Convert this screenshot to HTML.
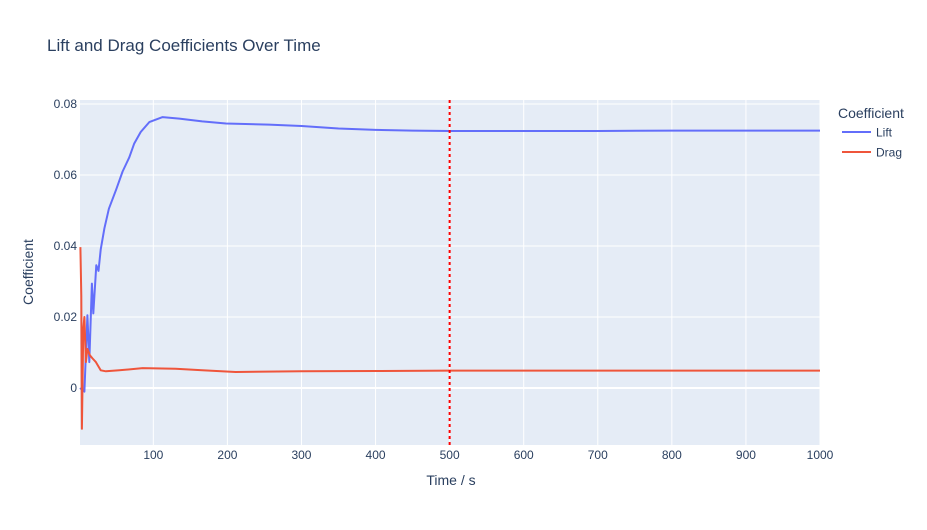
<!DOCTYPE html>
<html><head><meta charset="utf-8"><style>
body{margin:0;background:#fff;font-family:"Liberation Sans",Arial,sans-serif;}
svg text{font-family:"Liberation Sans",Arial,sans-serif;}
</style></head><body>
<svg id="chart" width="927" height="525" xmlns="http://www.w3.org/2000/svg">
<rect width="927" height="525" fill="#fff"/>
<text x="47" y="51" font-size="17" fill="#2a3f5f">Lift and Drag Coefficients Over Time</text>
<rect x="80" y="100" width="740" height="345" fill="#e5ecf6"/>
<g id="grid"></g>
<g id="series"></g>
<g id="ticks"></g>
<text x="451" y="485" font-size="14" fill="#2a3f5f" text-anchor="middle">Time / s</text>
<text x="33" y="272" font-size="14" fill="#2a3f5f" text-anchor="middle" transform="rotate(-90 33 272)">Coefficient</text>
<g>
<text x="838" y="118" font-size="14" fill="#2a3f5f">Coefficient</text>
<g><line x1="842" y1="132" x2="871" y2="132" stroke="#636efa" stroke-width="2"/><text x="876" y="136.5" font-size="12" fill="#2a3f5f">Lift</text></g>
<g><line x1="842" y1="152" x2="871" y2="152" stroke="#ef553b" stroke-width="2"/><text x="876" y="156.5" font-size="12" fill="#2a3f5f">Drag</text></g>
</g>
</svg>
<script>
const liftT=[1,7,11,13.5,17,19,23,26,29,34,40,50,58.5,67.5,74,83,94.5,112.5,135,166,198,256,300,350,400,450,500,600,700,800,900,1000];
const liftV=[0,-0.001,0.0205,0.0073,0.0294,0.021,0.0346,0.033,0.039,0.045,0.0505,0.056,0.061,0.065,0.0688,0.0721,0.0749,0.0763,0.0759,0.0751,0.0745,0.0742,0.0738,0.0731,0.0727,0.0725,0.0724,0.0724,0.0724,0.0725,0.0725,0.0725];
const dragT=[1.5,2.7,3.6,5.4,7,9,11,14.4,18,22.5,29,36,54,85.5,130,166,211,300,400,500,600,700,800,900,1000];
const dragV=[0.0397,0.026,-0.0115,0.0167,0.02,0.0073,0.011,0.0092,0.0083,0.0073,0.005,0.0047,0.005,0.0056,0.0054,0.005,0.0045,0.0047,0.0048,0.0049,0.0049,0.0049,0.0049,0.0049,0.0049];
const xTicks=[100,200,300,400,500,600,700,800,900,1000];
const yTicks=[0,0.02,0.04,0.06,0.08];
const yTickLabels=["0","0.02","0.04","0.06","0.08"];
const markerT=500;
const NS="http://www.w3.org/2000/svg";
const xs=t=>80+(t-1)/(999)*740;
const ys=v=>388-v/0.02*71;
function mk(tag,attrs,parent){const e=document.createElementNS(NS,tag);for(const k in attrs)e.setAttribute(k,attrs[k]);parent.appendChild(e);return e;}
const grid=document.getElementById('grid'),ticks=document.getElementById('ticks'),series=document.getElementById('series');
xTicks.forEach(t=>{
  const l=mk('line',{x1:xs(t),x2:xs(t),y1:100,y2:445,stroke:'#fff','stroke-width':1},grid);
  
  
  const tx=mk('text',{x:xs(t),y:459,'font-size':12,fill:'#2a3f5f','text-anchor':'middle'},ticks);
  tx.textContent=t;
  
  
});
yTicks.forEach((v,i)=>{
  const l=mk('line',{x1:80,x2:820,y1:ys(v),y2:ys(v),stroke:'#fff','stroke-width':v===0?2:1},grid);
  
  
  const tx=mk('text',{x:77,y:ys(v)+4,'font-size':12,fill:'#2a3f5f','text-anchor':'end'},ticks);
  tx.textContent=yTickLabels[i];
  
  
});
function path(T,V,color,name){
  const d=T.map((t,i)=>(i?'L':'M')+xs(t).toFixed(1)+','+ys(V[i]).toFixed(1)).join('');
  const p=mk('path',{d:d,fill:'none',stroke:color,'stroke-width':2,'stroke-linejoin':'round'},series);
  
  
}
path(liftT,liftV,'#636efa','lift-line');
path(dragT,dragV,'#ef553b','drag-line');
const vl=mk('line',{x1:xs(markerT),x2:xs(markerT),y1:100,y2:445,stroke:'#ff0000','stroke-width':2,'stroke-dasharray':'3,3'},series);


</script>
</body></html>
